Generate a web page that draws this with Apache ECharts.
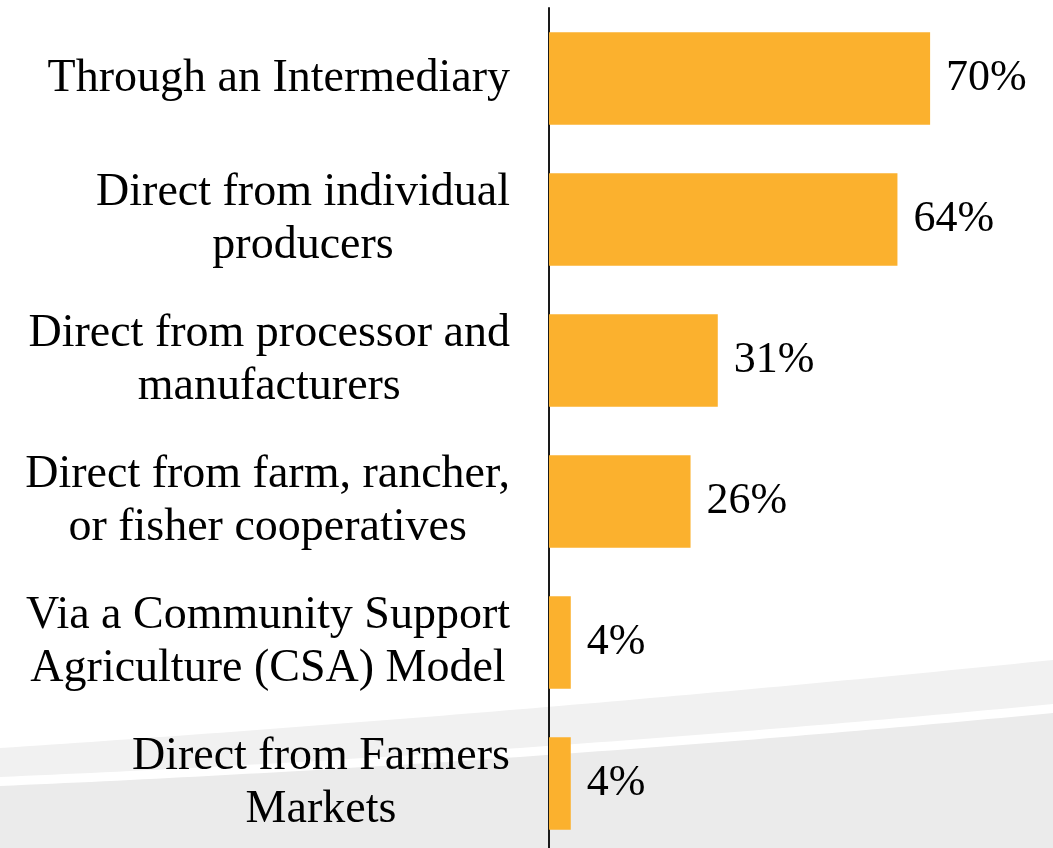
<!DOCTYPE html>
<html>
<head>
<meta charset="utf-8">
<script src="https://cdn.jsdelivr.net/npm/echarts@6/dist/echarts.min.js"></script>
<style>
html,body{margin:0;padding:0;background:#fff;overflow:hidden;width:1053px;height:848px;}
#chart{width:1053px;height:860px;}
</style>
</head>
<body>
<div id="chart"></div>
<script>
var categories = [
  'Through an Intermediary',
  'Direct from individual\nproducers',
  'Direct from processor and\nmanufacturers',
  'Direct from farm, rancher,\nor fisher cooperatives',
  'Via a Community Support\nAgriculture (CSA) Model',
  'Direct from Farmers\nMarkets'
];
var values = [70, 64, 31, 26, 4, 4];

var FONT = '"Liberation Serif", "Times New Roman", serif';

function curve(a, b, c, from, to, step) {
  var pts = [];
  for (var x = from; x <= to; x += step) pts.push([x, a + b * x + c * x * x]);
  return pts;
}
var W = 1053, H = 860;
var lightTop = curve(748, -0.0657, -1.698e-5, 0, W, 13);
var whiteTop = curve(777, -0.0429, -2.51e-5, 0, W, 13);
var darkTop = curve(786, -0.0429, -2.51e-5, 0, W, 13);
function poly(top, fill) {
  var pts = top.concat([[W + 13, top[top.length - 1][1]], [W + 13, H + 5], [0, H + 5]]);
  return { type: 'polygon', shape: { points: pts }, style: { fill: fill }, silent: true, z: -10 };
}

var chart = echarts.init(document.getElementById('chart'));
chart.setOption({
  backgroundColor: '#ffffff',
  animation: false,
  graphic: [
    poly(lightTop, '#f1f1f1'),
    poly(whiteTop, '#ffffff'),
    poly(darkTop, '#ebebeb')
  ],
  grid: { left: 549, top: 8, width: 490, height: 846, containLabel: false },
  xAxis: {
    type: 'value', min: 0, max: 90, show: false
  },
  yAxis: {
    type: 'category',
    data: categories,
    inverse: true,
    axisTick: { show: false },
    axisLine: { show: true, lineStyle: { color: '#1a1a1a', width: 2 } },
    splitLine: { show: false },
    axisLabel: {
      margin: 39,
      align: 'right',
      formatter: function (v) {
        return v.split('\n').map(function (l) { return '{c|' + l + '}'; }).join('\n');
      },
      rich: {
        c: { align: 'center', fontFamily: FONT, fontSize: 46, lineHeight: 53, color: '#000' }
      }
    }
  },
  series: [{
    type: 'bar',
    data: values,
    barWidth: '65.5%',
    itemStyle: { color: '#FBB12E' },
    label: {
      show: true,
      position: 'right',
      distance: 16,
      formatter: '{c}%',
      fontFamily: FONT,
      fontSize: 44,
      color: '#000'
    }
  }]
});
</script>
</body>
</html>
